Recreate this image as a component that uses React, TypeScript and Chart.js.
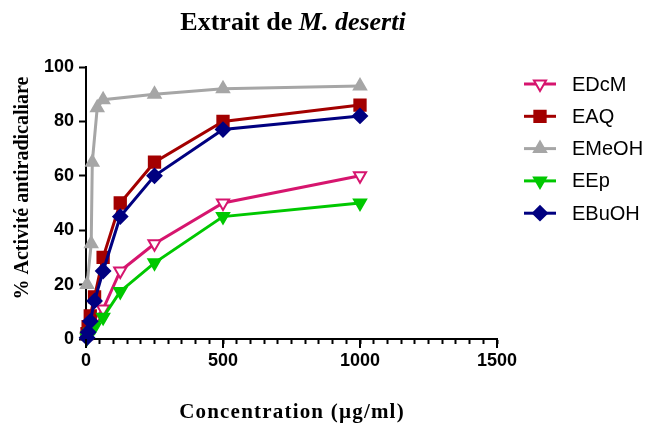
import React, { useEffect, useRef } from 'react';
import { Chart, registerables } from 'chart.js';

Chart.register(...registerables);

// ---- Data ----
const seriesLabels = ['EDcM', 'EAQ', 'EMeOH', 'EEp', 'EBuOH'];
const concentrations = [3.9, 7.8, 15.6, 31.25, 62.5, 125, 250, 500, 1000];
const edcmValues = [1, 2.5, 4, 7, 11, 25, 35, 50, 60];
const eaqValues = [2, 4.5, 8.5, 15.5, 30, 50, 65, 80, 86];
const emeohConcentrations = [3.9, 19, 23, 41, 62.5, 250, 500, 1000];
const emeohValues = [20, 35, 65, 85, 88, 90, 92, 93];
const eepValues = [0.5, 1.5, 2.5, 4.5, 8, 17.5, 28, 45, 50];
const ebuohValues = [0.5, 2.5, 6.5, 14, 25, 45, 60, 77, 82];
const xTickLabels = [0, 500, 1000, 1500];
const yTickLabels = [0, 20, 40, 60, 80, 100];
const titleMain = 'Extrait de ';
const titleItalic = 'M. deserti';
const xTitle = 'Concentration (µg/ml)';
const yTitle = '% Activité antiradicaliare';

const pairs = (xs: number[], ys: number[]) => xs.map((x, i) => ({ x, y: ys[i] }));

type Marker = { style: string; rotation: number; fill: string; stroke: string; radius: number };

function drawMarker(ctx: CanvasRenderingContext2D, x: number, y: number, m: Marker) {
  ctx.save();
  ctx.beginPath();
  const r = m.radius;
  if (m.style === 'rect') {
    const s = Math.SQRT1_2 * r;
    ctx.rect(x - s, y - s, 2 * s, 2 * s);
  } else if (m.style === 'rectRot') {
    ctx.moveTo(x, y - r);
    ctx.lineTo(x + r, y);
    ctx.lineTo(x, y + r);
    ctx.lineTo(x - r, y);
    ctx.closePath();
  } else {
    let rad = (m.rotation * Math.PI) / 180;
    ctx.moveTo(x + Math.sin(rad) * r, y - Math.cos(rad) * r);
    rad += (2 * Math.PI) / 3;
    ctx.lineTo(x + Math.sin(rad) * r, y - Math.cos(rad) * r);
    rad += (2 * Math.PI) / 3;
    ctx.lineTo(x + Math.sin(rad) * r, y - Math.cos(rad) * r);
    ctx.closePath();
  }
  ctx.fillStyle = m.fill;
  ctx.fill();
  ctx.lineWidth = 2;
  ctx.strokeStyle = m.stroke;
  ctx.stroke();
  ctx.restore();
}

const annotationsPlugin = {
  id: 'annotations',
  afterDraw(chart: any) {
    const ctx: CanvasRenderingContext2D = chart.ctx;
    ctx.save();
    ctx.fillStyle = '#000';
    // Title with italic part
    const f1 = 'bold 26px "Liberation Serif", "Times New Roman", serif';
    const f2 = 'italic bold 26px "Liberation Serif", "Times New Roman", serif';
    ctx.textBaseline = 'alphabetic';
    ctx.textAlign = 'left';
    ctx.font = f1;
    const w1 = ctx.measureText(titleMain).width;
    ctx.font = f2;
    const w2 = ctx.measureText(titleItalic).width;
    const tx = 293 - (w1 + w2) / 2;
    ctx.font = f1;
    ctx.fillText(titleMain, tx, 30);
    ctx.font = f2;
    ctx.fillText(titleItalic, tx + w1, 30);

    // Longer major ticks on the x axis
    const xs = chart.scales.x;
    const bottom = chart.chartArea.bottom;
    ctx.strokeStyle = '#000';
    ctx.lineWidth = 2;
    xTickLabels.forEach((v) => {
      const px = Math.round(xs.getPixelForValue(v));
      ctx.beginPath();
      ctx.moveTo(px, bottom);
      ctx.lineTo(px, bottom + 9);
      ctx.stroke();
    });

    // Y axis title
    ctx.save();
    ctx.translate(23, 188);
    ctx.rotate(-Math.PI / 2);
    ctx.font = 'bold 20px "Liberation Serif", "Times New Roman", serif';
    ctx.textAlign = 'center';
    ctx.textBaseline = 'middle';
    ctx.fillText(yTitle, 0, 0);
    ctx.restore();

    // X axis title
    ctx.save();
    ctx.font = 'bold 21px "Liberation Serif", "Times New Roman", serif';
    (ctx as any).letterSpacing = '1.2px';
    ctx.textAlign = 'center';
    ctx.textBaseline = 'middle';
    ctx.fillText(xTitle, 292, 413);
    ctx.restore();

    // Legend
    chart.data.datasets.forEach((ds: any, i: number) => {
      const y = 84 + i * 32.3;
      ctx.beginPath();
      ctx.moveTo(524, y);
      ctx.lineTo(556, y);
      ctx.lineWidth = 3;
      ctx.strokeStyle = ds.borderColor;
      ctx.stroke();
      drawMarker(ctx, 540, y, {
        style: ds.pointStyle,
        rotation: ds.pointRotation || 0,
        fill: ds.pointBackgroundColor,
        stroke: ds.pointBorderColor,
        radius: ds.pointRadius,
      });
      ctx.fillStyle = '#000';
      ctx.font = '20px "Liberation Sans", Arial, sans-serif';
      ctx.textAlign = 'left';
      ctx.textBaseline = 'middle';
      ctx.fillText(ds.label, 572, y + 1);
    });
    ctx.restore();
  },
};

export default function App() {
  const canvasRef = useRef<HTMLCanvasElement | null>(null);

  useEffect(() => {
    if (!canvasRef.current) return;
    const tickFont = { family: '"Liberation Sans", Arial, sans-serif', size: 18, weight: 'bold' as const };
    const colors = ['#D6156E', '#A30000', '#A6A6A6', '#00C800', '#000080'];
    const mk = (
      idx: number,
      data: { x: number; y: number }[],
      pointStyle: string,
      rotation: number,
      radius: number,
      open: boolean,
      order: number
    ) => ({
      label: seriesLabels[idx],
      data,
      borderColor: colors[idx],
      backgroundColor: colors[idx],
      borderWidth: 3,
      pointStyle,
      pointRotation: rotation,
      pointRadius: radius,
      pointBorderWidth: 2,
      pointBackgroundColor: open ? '#ffffff' : colors[idx],
      pointBorderColor: colors[idx],
      tension: 0,
      clip: false as const,
      order,
    });

    const chart = new Chart(canvasRef.current, {
      type: 'line',
      data: {
        datasets: [
          mk(0, pairs(concentrations, edcmValues), 'triangle', 180, 7, true, 4),
          mk(1, pairs(concentrations, eaqValues), 'rect', 0, 8, false, 3),
          mk(2, pairs(emeohConcentrations, emeohValues), 'triangle', 0, 7, false, 2),
          mk(3, pairs(concentrations, eepValues), 'triangle', 180, 7, false, 1),
          mk(4, pairs(concentrations, ebuohValues), 'rectRot', 0, 7, false, 0),
        ] as any,
      },
      options: {
        animation: false,
        responsive: false,
        devicePixelRatio: 1,
        layout: { padding: { left: 0, right: 152, top: 67, bottom: 0 } },
        plugins: {
          legend: { display: false },
          title: { display: false },
          tooltip: { enabled: false },
        },
        scales: {
          x: {
            type: 'linear',
            min: 0,
            max: 1500,
            afterFit: (scale: any) => {
              scale.height = 89;
            },
            border: { display: true, color: '#000', width: 2 },
            grid: {
              display: true,
              drawOnChartArea: false,
              drawTicks: true,
              tickLength: 5,
              tickColor: '#000',
              tickWidth: 2,
            },
            ticks: {
              stepSize: 50,
              maxTicksLimit: 100,
              autoSkip: false,
              maxRotation: 0,
              padding: 6,
              color: '#000',
              font: tickFont,
              callback: (v: any) => (xTickLabels.includes(Number(v)) ? String(v) : ''),
            },
          },
          y: {
            type: 'linear',
            min: 0,
            max: 100,
            afterFit: (scale: any) => {
              scale.width = 86;
            },
            border: { display: true, color: '#000', width: 2 },
            grid: {
              display: true,
              drawOnChartArea: false,
              drawTicks: true,
              tickLength: 7,
              tickColor: '#000',
              tickWidth: 2,
            },
            ticks: {
              stepSize: 20,
              padding: 5,
              color: '#000',
              font: tickFont,
              callback: (v: any) => (yTickLabels.includes(Number(v)) ? String(v) : ''),
            },
          },
        },
      } as any,
      plugins: [annotationsPlugin],
    });
    return () => chart.destroy();
  }, []);

  return (
    <div style={{ position: 'absolute', left: 0, top: 0, width: 649, height: 428, background: '#fff' }}>
      <canvas ref={canvasRef} width={649} height={428} style={{ display: 'block', width: 649, height: 428 }} />
    </div>
  );
}
